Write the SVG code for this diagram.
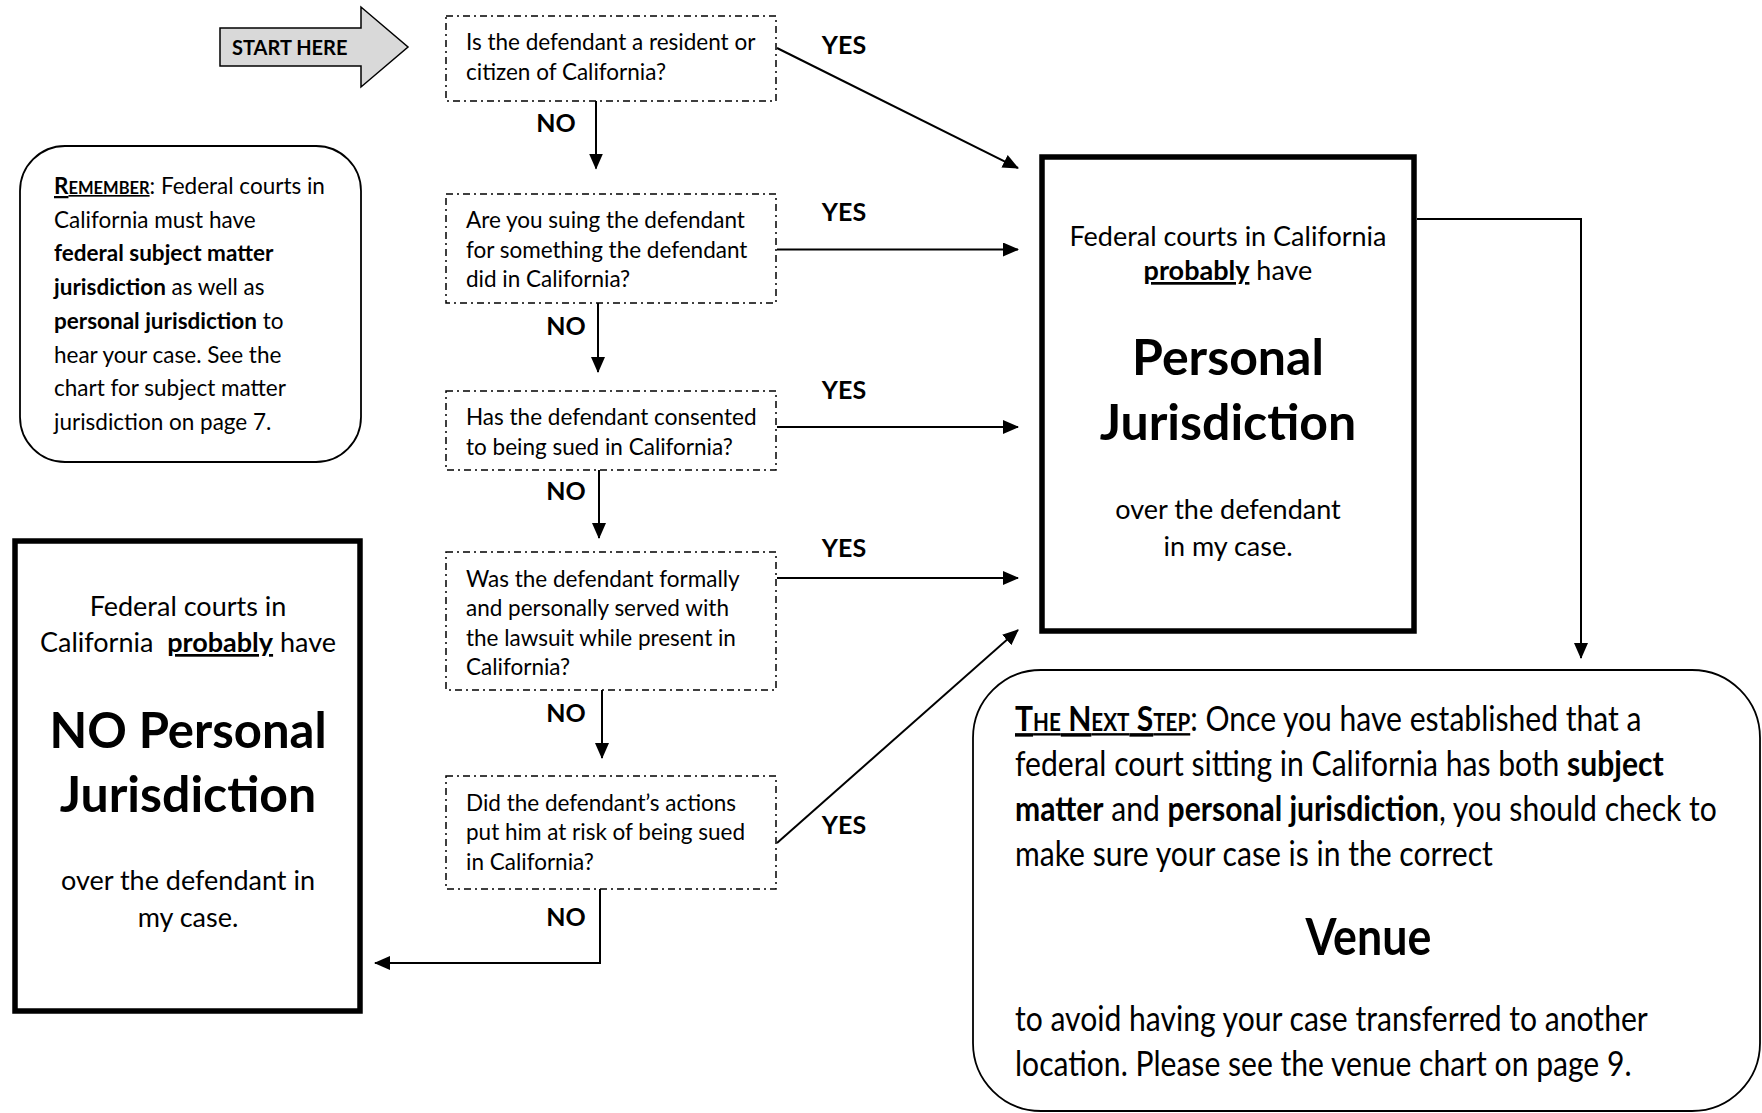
<svg xmlns="http://www.w3.org/2000/svg" width="1762" height="1113" viewBox="0 0 1762 1113">
<defs>
<style>
text { font-family: Lato, "Open Sans", "Liberation Sans", sans-serif; fill: #000; }
.q { font-size: 22.5px; }
.lbl { font-size: 25px; font-weight: bold; text-anchor: middle; }
.qbox { fill: #fff; stroke: #000; stroke-width: 1.5; stroke-dasharray: 7 4 2 4; }
.thick { fill: #fff; stroke: #000; stroke-width: 5.5; }
.round { fill: #fff; stroke: #000; stroke-width: 1.8; }
.mid { font-size: 27px; text-anchor: middle; }
.big { font-size: 50px; font-weight: bold; text-anchor: middle; }
.rem { font-size: 22.5px; }
.ns { font-size: 35px; }
.venue { font-size: 52px; font-weight: bold; text-anchor: middle; }
.sc { font-size: 24px; }
.conn { fill: none; stroke: #000; stroke-width: 2; }
.b { font-weight: bold; }
.u { text-decoration: underline; }
</style>
<marker id="ah" markerUnits="userSpaceOnUse" markerWidth="16" markerHeight="14" refX="15" refY="7" orient="auto">
<path d="M0,0 L16,7 L0,14 Z" fill="#000"/>
</marker>
</defs>
<rect width="1762" height="1113" fill="#fff"/>

<g id="start">
<polygon points="220,28 361,28 361,7 408,47 361,87 361,66 220,66" fill="#d9d9d9" stroke="#000" stroke-width="1.5"/>
<text x="232" y="55" class="b" font-size="20">START HERE</text>
</g>

<g id="remember">
<rect x="20" y="146" width="341" height="316" rx="45" class="round"/>
<text class="rem" x="54" y="194"><tspan class="b u">R<tspan font-size="16.5">EMEMBER</tspan></tspan>: Federal courts in</text>
<text class="rem" x="54" y="227.7">California must have</text>
<text class="rem b" x="54" y="261.4">federal subject matter</text>
<text class="rem" x="54" y="295.1"><tspan class="b">jurisdiction</tspan> as well as</text>
<text class="rem" x="54" y="328.8"><tspan class="b">personal jurisdiction</tspan> to</text>
<text class="rem" x="54" y="362.5">hear your case. See the</text>
<text class="rem" x="54" y="396.2">chart for subject matter</text>
<text class="rem" x="54" y="429.9">jurisdiction on page 7.</text>
</g>

<g id="q1">
<rect x="446" y="16" width="330" height="85" class="qbox"/>
<text class="q" x="466" y="50">Is the defendant a resident or</text>
<text class="q" x="466" y="79.5">citizen of California?</text>
</g>

<g id="q2">
<rect x="446" y="194" width="330" height="109" class="qbox"/>
<text class="q" x="466" y="228">Are you suing the defendant</text>
<text class="q" x="466" y="257.5">for something the defendant</text>
<text class="q" x="466" y="287">did in California?</text>
</g>

<g id="q3">
<rect x="446" y="391" width="330" height="79" class="qbox"/>
<text class="q" x="466" y="425">Has the defendant consented</text>
<text class="q" x="466" y="454.5">to being sued in California?</text>
</g>

<g id="q4">
<rect x="446" y="552" width="330" height="138" class="qbox"/>
<text class="q" x="466" y="587">Was the defendant formally</text>
<text class="q" x="466" y="616">and personally served with</text>
<text class="q" x="466" y="645.5">the lawsuit while present in</text>
<text class="q" x="466" y="675">California?</text>
</g>

<g id="q5">
<rect x="446" y="776" width="330" height="113" class="qbox"/>
<text class="q" x="466" y="811">Did the defendant’s actions</text>
<text class="q" x="466" y="840">put him at risk of being sued</text>
<text class="q" x="466" y="869.5">in California?</text>
</g>

<g id="pj">
<rect x="1042" y="157" width="372" height="474" class="thick"/>
<text class="mid" x="1228" y="245.5">Federal courts in California</text>
<text class="mid" x="1228" y="280"><tspan class="b u">probably</tspan> have</text>
<text class="big" x="1228" y="374.5">Personal</text>
<text class="big" x="1228" y="439.5">Jurisdiction</text>
<text class="mid" x="1228" y="518.5">over the defendant</text>
<text class="mid" x="1228" y="555.5">in my case.</text>
</g>

<g id="nopj">
<rect x="15" y="541" width="345" height="470" class="thick"/>
<text class="mid" x="188" y="616">Federal courts in</text>
<text class="mid" x="188" y="652">California&#160; <tspan class="b u">probably</tspan> have</text>
<text class="big" x="188" y="747.5" style="font-size:49px">NO Personal</text>
<text class="big" x="188" y="811.5">Jurisdiction</text>
<text class="mid" x="188" y="889.5">over the defendant in</text>
<text class="mid" x="188" y="926.5">my case.</text>
</g>

<g id="nextstep">
<rect x="973" y="670" width="787" height="441" rx="68" class="round"/>
<g transform="translate(1015 0) scale(0.86 1)">
<text class="ns" x="0" y="731"><tspan class="b u">T<tspan class="sc">HE</tspan> N<tspan class="sc">EXT</tspan> S<tspan class="sc">TEP</tspan></tspan>: Once you have established that a</text>
<text class="ns" x="0" y="776">federal court sitting in California has both <tspan class="b">subject</tspan></text>
<text class="ns" x="0" y="821"><tspan class="b">matter</tspan> and <tspan class="b">personal jurisdiction</tspan>, you should check to</text>
<text class="ns" x="0" y="866">make sure your case is in the correct</text>
<text class="venue" x="411" y="955">Venue</text>
<text class="ns" x="0" y="1031">to avoid having your case transferred to another</text>
<text class="ns" x="0" y="1076">location. Please see the venue chart on page 9.</text>
</g>
</g>

<g id="connectors">
<path class="conn" d="M596,101 V168.5" marker-end="url(#ah)"/>
<path class="conn" d="M598,303 V372" marker-end="url(#ah)"/>
<path class="conn" d="M599,470 V538" marker-end="url(#ah)"/>
<path class="conn" d="M602,690 V758" marker-end="url(#ah)"/>
<path class="conn" d="M600,889 V963 H375" marker-end="url(#ah)"/>
<path class="conn" d="M777,48 L1018,168" marker-end="url(#ah)"/>
<path class="conn" d="M777,249.5 H1018" marker-end="url(#ah)"/>
<path class="conn" d="M777,427 H1018" marker-end="url(#ah)"/>
<path class="conn" d="M777,578 H1018" marker-end="url(#ah)"/>
<path class="conn" d="M777,843 L1018,630" marker-end="url(#ah)"/>
<path class="conn" d="M1417,219 H1581 V658" marker-end="url(#ah)"/>
<text class="lbl" x="556" y="131.5">NO</text>
<text class="lbl" x="566" y="335">NO</text>
<text class="lbl" x="566" y="500">NO</text>
<text class="lbl" x="566" y="722">NO</text>
<text class="lbl" x="566" y="926">NO</text>
<text class="lbl" x="844" y="54">YES</text>
<text class="lbl" x="844" y="221">YES</text>
<text class="lbl" x="844" y="399">YES</text>
<text class="lbl" x="844" y="556.5">YES</text>
<text class="lbl" x="844" y="833.5">YES</text>
</g>
</svg>
